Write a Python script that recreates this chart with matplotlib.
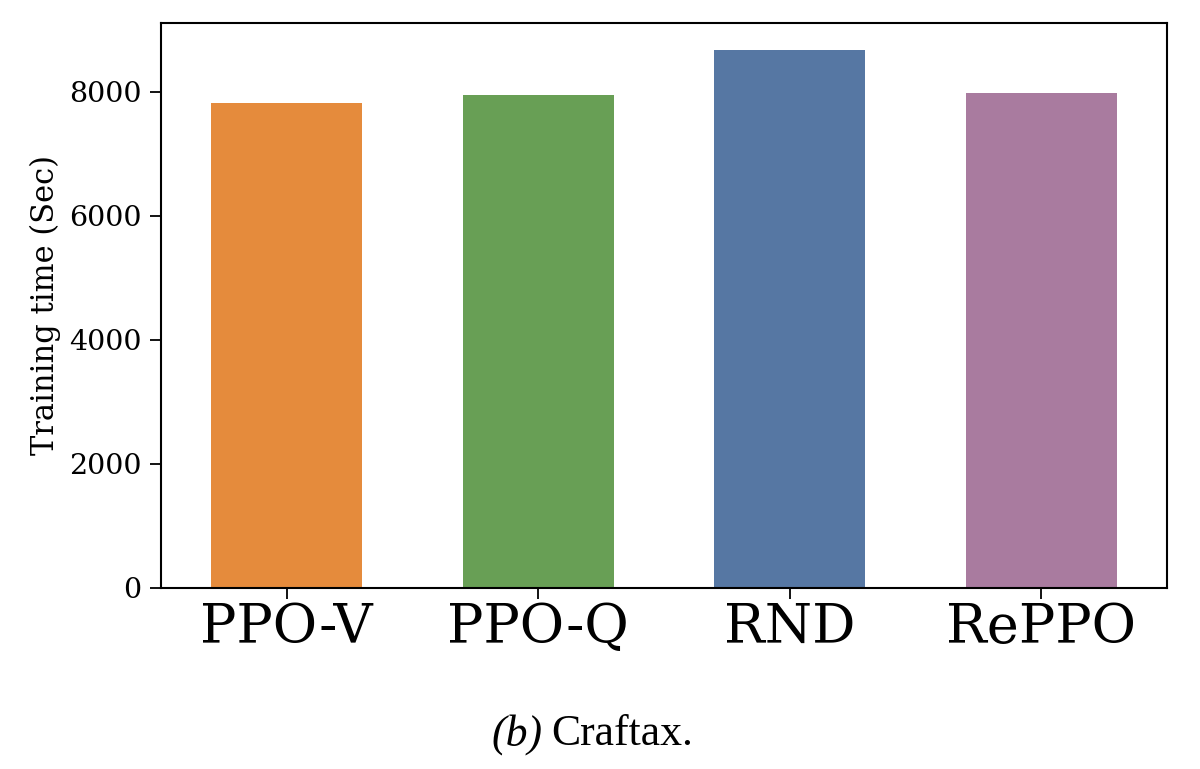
import numpy as np
import matplotlib
matplotlib.use("Agg")
import matplotlib.pyplot as plt

# data
methods = ["PPO-V", "PPO-Q", "RND", "RePPO"]
train_time = [7825, 7950, 8680, 7985]
colors = ["#E58B3C", "#689F55", "#5677A3", "#A97B9F"]

plt.rcParams["font.family"] = "DejaVu Serif"

fig = plt.figure(figsize=(12, 7.69), dpi=100)
ax = fig.add_axes([0.134, 0.2354, 0.8385, 0.7347])

x = np.arange(len(methods))
ax.bar(x, train_time, width=0.6, color=colors)

ax.set_xlim(-0.5, len(methods) - 0.5)
ax.set_ylim(0, 9110)
ax.set_yticks([0, 2000, 4000, 6000, 8000])
ax.set_xticks(x)
ax.set_xticklabels(methods, fontsize=39)
ax.tick_params(axis="y", labelsize=20.5, length=8, width=1.3, pad=6)
ax.tick_params(axis="x", length=8, width=1.3, pad=2)
ax.set_ylabel("Training time (Sec)", fontsize=22, labelpad=6)
for s in ax.spines.values():
    s.set_linewidth(1.5)

# caption
fig.text(0.4525, 0.031, "(b)", ha="right", va="baseline", fontsize=31.5,
         family="Liberation Serif", style="italic")
fig.text(0.4595, 0.031, "Craftax.", ha="left", va="baseline", fontsize=31.5,
         family="Liberation Serif")

fig.savefig("out.png", dpi=100)
